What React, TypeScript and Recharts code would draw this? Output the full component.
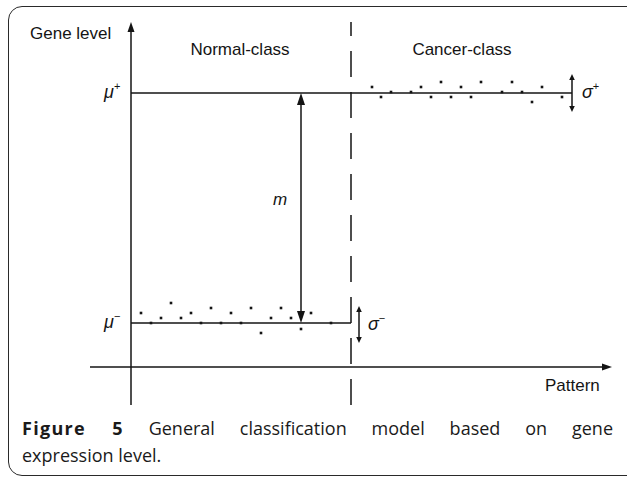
import React from "react";
import {
  ComposedChart,
  XAxis,
  YAxis,
  Scatter,
  ReferenceLine,
  ReferenceDot,
} from "recharts";

// pattern index of each sample and its gene level
const normalX = [1, 2, 3, 4, 5, 6, 7, 8, 9, 10, 11, 12, 13, 14, 15, 16, 17, 18, 20];
const normalY = [10.8, 8.8, 9.8, 12.8, 9.8, 10.8, 8.8, 11.8, 8.8, 10.8, 8.8, 11.8, 6.8, 9.8, 11.8, 9.8, 7.6, 10.8, 8.8];
const cancerX = [24.1, 25, 26, 28, 29, 30, 31, 32, 33, 34, 35, 37.1, 38.1, 39.1, 40.1, 41.1, 43.1];
const cancerY = [56, 54, 55, 55, 56, 54, 57, 54, 56, 54, 57, 55, 57, 55, 53, 56, 54];

const muMinus = 8.8;
const muPlus = 54.8;
const boundary = 22; // class boundary on the pattern axis
const patternEnd = 44.1;
const sigmaPlus = [51, 58.6];
const sigmaMinus = [4.8, 12.2];
const mAt = 17;

const xDomain = [-4.1, 48.1];
const yDomain = [-8, 69];

const normalDots = normalX.map((x, i) => ({ x, y: normalY[i] }));
const cancerDots = cancerX.map((x, i) => ({ x, y: cancerY[i] }));

const INK = "#141414";
const FONT = "'Liberation Sans', Arial, sans-serif";

const dotShape = (p: any) => (
  <rect x={p.cx - 1.3} y={p.cy - 1.3} width={2.6} height={2.6} fill={INK} />
);

function arrowShape(o: { start?: boolean; end?: boolean; len?: number; half?: number; dash?: string; w?: number }) {
  const len = o.len ?? 10;
  const half = o.half ?? 3.5;
  return (p: any) => {
    const { x1, y1, x2, y2 } = p;
    const dx = x2 - x1;
    const dy = y2 - y1;
    const L = Math.hypot(dx, dy) || 1;
    const ux = dx / L;
    const uy = dy / L;
    const head = (tx: number, ty: number, vx: number, vy: number) => {
      const bx = tx - vx * len;
      const by = ty - vy * len;
      const nx = -vy * half;
      const ny = vx * half;
      return (
        <polygon
          points={`${tx},${ty} ${bx + nx},${by + ny} ${bx - nx},${by - ny}`}
          fill={INK}
        />
      );
    };
    const sx = o.start ? x1 + ux * len * 0.6 : x1;
    const sy = o.start ? y1 + uy * len * 0.6 : y1;
    const ex = o.end ? x2 - ux * len * 0.6 : x2;
    const ey = o.end ? y2 - uy * len * 0.6 : y2;
    return (
      <g>
        <line
          x1={sx}
          y1={sy}
          x2={ex}
          y2={ey}
          stroke={INK}
          strokeWidth={o.w ?? 1.5}
          strokeDasharray={o.dash}
        />
        {o.start && head(x1, y1, -ux, -uy)}
        {o.end && head(x2, y2, ux, uy)}
      </g>
    );
  };
}

const textShape = (content: React.ReactNode, anchor: "start" | "middle" | "end" = "start", italic = false) =>
  (p: any) => (
    <text
      x={p.cx}
      y={p.cy}
      textAnchor={anchor}
      fontFamily={FONT}
      fontSize={17}
      fontStyle={italic ? "italic" : "normal"}
      fill={INK}
    >
      {content}
    </text>
  );

const symbol = (base: string, sup: string) => (
  <>
    <tspan fontStyle="italic" fontSize={18}>{base}</tspan>
    <tspan fontSize={11} dy={-8}>{sup}</tspan>
  </>
);

export default function App() {
  return (
    <div
      style={{
        position: "fixed",
        left: 0,
        top: 0,
        width: 627,
        height: 477,
        overflow: "hidden",
        background: "#fff",
      }}
    >
      <div
        style={{
          position: "absolute",
          left: 8,
          top: 6,
          width: 640,
          height: 468,
          border: "1.5px solid #2a2a2a",
          borderRadius: 14,
        }}
      />
      <div style={{ position: "absolute", left: 0, top: 0 }}>
        <ComposedChart
          width={627}
          height={410}
          margin={{ top: 22, right: 15, bottom: 3, left: 90 }}
        >
          <XAxis type="number" dataKey="x" domain={xDomain} hide allowDataOverflow />
          <YAxis type="number" dataKey="y" domain={yDomain} hide allowDataOverflow />

          {/* axes */}
          <ReferenceLine
            segment={[{ x: 0, y: -7.6 }, { x: 0, y: 69 }]}
            shape={arrowShape({ end: true, len: 10, half: 3.5 })}
            ifOverflow="visible"
          />
          <ReferenceLine
            segment={[{ x: -4.1, y: 0 }, { x: 48.1, y: 0 }]}
            shape={arrowShape({ end: true, len: 10, half: 3.5 })}
            ifOverflow="visible"
          />

          {/* class boundary */}
          <ReferenceLine
            segment={[{ x: boundary, y: -7.6 }, { x: boundary, y: 69 }]}
            shape={arrowShape({ dash: "26 15" })}
            ifOverflow="visible"
          />

          {/* mean levels */}
          <ReferenceLine
            segment={[{ x: 0, y: muPlus }, { x: patternEnd, y: muPlus }]}
            shape={arrowShape({})}
          />
          <ReferenceLine
            segment={[{ x: 0, y: muMinus }, { x: boundary, y: muMinus }]}
            shape={arrowShape({})}
          />

          {/* margin m and spreads */}
          <ReferenceLine
            segment={[{ x: mAt, y: muMinus }, { x: mAt, y: muPlus }]}
            shape={arrowShape({ start: true, end: true, len: 12, half: 4 })}
          />
          <ReferenceLine
            segment={[{ x: patternEnd, y: sigmaPlus[0] }, { x: patternEnd, y: sigmaPlus[1] }]}
            shape={arrowShape({ start: true, end: true, len: 6, half: 2.8 })}
          />
          <ReferenceLine
            segment={[{ x: 22.8, y: sigmaMinus[0] }, { x: 22.8, y: sigmaMinus[1] }]}
            shape={arrowShape({ start: true, end: true, len: 6, half: 2.8 })}
          />

          <Scatter data={normalDots} shape={dotShape} isAnimationActive={false} />
          <Scatter data={cancerDots} shape={dotShape} isAnimationActive={false} />

          {/* labels */}
          <ReferenceDot x={-10.1} y={65.7} ifOverflow="visible" shape={textShape("Gene level")} />
          <ReferenceDot x={10.9} y={62.4} ifOverflow="visible" shape={textShape("Normal-class", "middle")} />
          <ReferenceDot x={33.1} y={62.4} ifOverflow="visible" shape={textShape("Cancer-class", "middle")} />
          <ReferenceDot x={41.4} y={-4.8} ifOverflow="visible" shape={textShape("Pattern")} />
          <ReferenceDot x={14.2} y={32.4} ifOverflow="visible" shape={textShape("m", "start", true)} />
          <ReferenceDot x={-2.7} y={53.8} ifOverflow="visible" shape={textShape(symbol("μ", "+"))} />
          <ReferenceDot x={-2.7} y={7.8} ifOverflow="visible" shape={textShape(symbol("μ", "−"))} />
          <ReferenceDot x={45.1} y={53.8} ifOverflow="visible" shape={textShape(symbol("σ", "+"))} />
          <ReferenceDot x={23.7} y={7.4} ifOverflow="visible" shape={textShape(symbol("σ", "−"))} />
        </ComposedChart>
      </div>
      <div
        style={{
          position: "absolute",
          left: 22,
          top: 415,
          width: 591,
          fontFamily: "'Open Sans', sans-serif",
          fontSize: 18,
          lineHeight: "27px",
          color: "#1a1a1a",
        }}
      >
        <div style={{ textAlign: "justify", textAlignLast: "justify" }}>
          <b style={{ letterSpacing: 1.3 }}>Figure 5</b> General classification model based on gene
        </div>
        <div>expression level.</div>
      </div>
    </div>
  );
}
